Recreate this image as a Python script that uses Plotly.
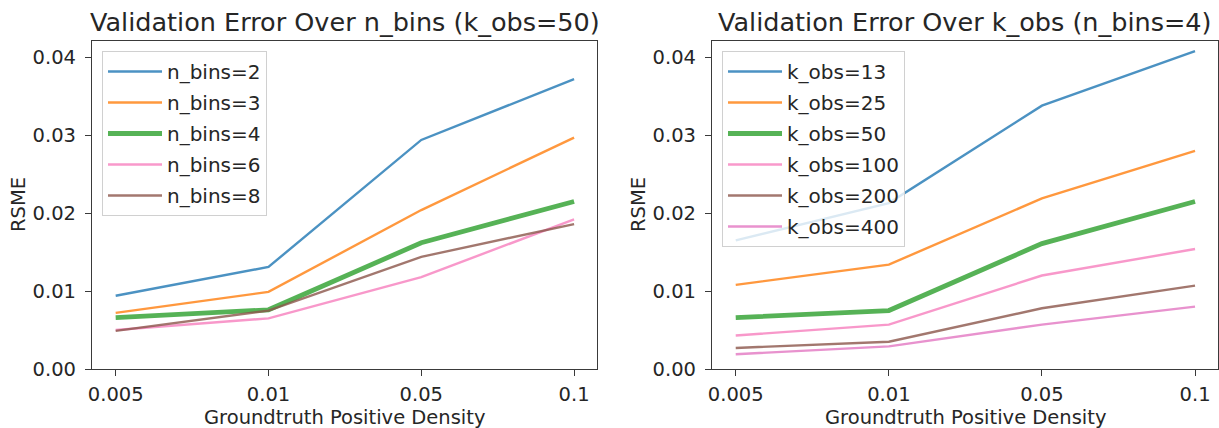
import plotly.graph_objects as go

x_labels = ["0.005", "0.01", "0.05", "0.1"]

nbins_names = ["n_bins=2", "n_bins=3", "n_bins=4", "n_bins=6", "n_bins=8"]
nbins_2 = [0.0094, 0.0131, 0.0294, 0.0372]
nbins_3 = [0.0072, 0.0099, 0.0204, 0.0297]
nbins_4 = [0.0066, 0.0076, 0.0162, 0.0215]
nbins_6 = [0.0050, 0.0065, 0.0118, 0.0192]
nbins_8 = [0.0049, 0.0075, 0.0144, 0.0186]

kobs_names = ["k_obs=13", "k_obs=25", "k_obs=50", "k_obs=100", "k_obs=200", "k_obs=400"]
kobs_13 = [0.0165, 0.0213, 0.0338, 0.0408]
kobs_25 = [0.0108, 0.0134, 0.0219, 0.0280]
kobs_50 = [0.0066, 0.0075, 0.0161, 0.0215]
kobs_100 = [0.0043, 0.0057, 0.0120, 0.0154]
kobs_200 = [0.0027, 0.0035, 0.0078, 0.0107]
kobs_400 = [0.0019, 0.0029, 0.0057, 0.0080]

y_ticks = [0.0, 0.01, 0.02, 0.03, 0.04]
y_tick_text = ["0.00", "0.01", "0.02", "0.03", "0.04"]

W, H = 1219, 428
FONT = "DejaVu Sans"
TXT = "#262626"

left_series = [nbins_2, nbins_3, nbins_4, nbins_6, nbins_8]
left_colors = ["#1f77b4", "#ff7f0e", "#2ca02c", "#f77fbe", "#8c564b"]
left_widths = [2.4, 2.4, 4.8, 2.4, 2.4]

right_series = [kobs_13, kobs_25, kobs_50, kobs_100, kobs_200, kobs_400]
right_colors = ["#1f77b4", "#ff7f0e", "#2ca02c", "#f77fbe", "#8c564b", "#e377c2"]
right_widths = [2.4, 2.4, 4.8, 2.4, 2.4, 2.4]

fig = go.Figure()
for i, (name, ys) in enumerate(zip(nbins_names, left_series)):
    fig.add_trace(go.Scatter(
        x=x_labels, y=ys, mode="lines", name=name,
        line=dict(color=left_colors[i], width=left_widths[i]),
        opacity=0.8, xaxis="x", yaxis="y", legend="legend",
        legendgroup="L%d" % i,
    ))
for i, (name, ys) in enumerate(zip(kobs_names, right_series)):
    fig.add_trace(go.Scatter(
        x=x_labels, y=ys, mode="lines", name=name,
        line=dict(color=right_colors[i], width=right_widths[i]),
        opacity=0.8, xaxis="x2", yaxis="y2", legend="legend2",
        legendgroup="R%d" % i,
    ))

px = lambda v: v / W
py = lambda v: 1 - v / H

dom_l = [px(92), px(597)]
dom_r = [px(712), px(1218)]
dom_y = [py(369), py(41)]

axis_common = dict(
    showline=True, linecolor="#3a3a3a", linewidth=1.2, mirror=True,
    ticks="outside", ticklen=6, tickwidth=1.1, tickcolor="#3a3a3a",
    showgrid=False, zeroline=False, automargin=False,
    tickfont=dict(family=FONT, size=19.5, color=TXT),
)
xcommon = dict(axis_common, type="category", range=[-0.155, 3.15], ticklabelstandoff=1)
ycommon = dict(axis_common, range=[0, 0.0421], tickvals=y_ticks, ticktext=y_tick_text,
               ticklabelstandoff=5)

legend_common = dict(
    bgcolor="rgba(255,255,255,0.8)", bordercolor="#d0d0d0", borderwidth=1,
    font=dict(family=FONT, size=20, color=TXT),
    xanchor="left", yanchor="top", tracegroupgap=2, itemwidth=54,
    itemclick=False, itemdoubleclick=False,
)

fig.update_layout(
    width=W, height=H,
    margin=dict(l=0, r=0, t=0, b=0, autoexpand=False),
    paper_bgcolor="white", plot_bgcolor="white",
    showlegend=True,
    xaxis=dict(xcommon, domain=dom_l, anchor="y"),
    yaxis=dict(ycommon, domain=dom_y, anchor="x"),
    xaxis2=dict(xcommon, domain=dom_r, anchor="y2"),
    yaxis2=dict(ycommon, domain=dom_y, anchor="x2"),
    legend=dict(legend_common, x=px(102), y=py(51)),
    legend2=dict(legend_common, x=px(722), y=py(51)),
)

titles = [
    ("Validation Error Over n_bins (k_obs=50)", (92 + 597) / 2),
    ("Validation Error Over k_obs (n_bins=4)", (712 + 1218) / 2),
]
for t, cx in titles:
    fig.add_annotation(text=t, x=px(cx), y=py(22), xref="paper", yref="paper",
                       xanchor="center", yanchor="middle", showarrow=False,
                       font=dict(family=FONT, size=25.5, color=TXT))
for cx in [(92 + 597) / 2, (712 + 1218) / 2]:
    fig.add_annotation(text="Groundtruth Positive Density", x=px(cx), y=py(417),
                       xref="paper", yref="paper", xanchor="center", yanchor="middle",
                       showarrow=False, font=dict(family=FONT, size=19.5, color=TXT))
for cx in [18, 638]:
    fig.add_annotation(text="RSME", x=px(cx), y=py(205), xref="paper", yref="paper",
                       xanchor="center", yanchor="middle", textangle=-90,
                       showarrow=False, font=dict(family=FONT, size=19.5, color=TXT))

fig.write_html("out.html", post_script="document.body.style.margin='0';",
               config={"displayModeBar": False})
